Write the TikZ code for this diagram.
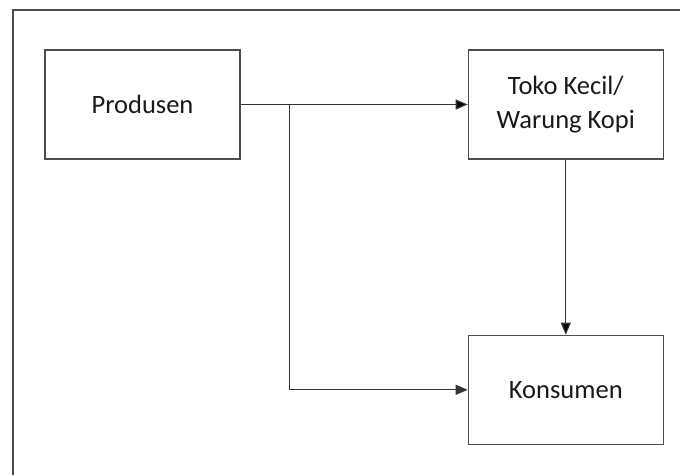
\documentclass[tikz,border=0pt]{standalone}
\usepackage{fontspec}
\setmainfont{Carlito}
\usetikzlibrary{arrows.meta,positioning}

\begin{document}
\begin{tikzpicture}[x=1pt,y=-1pt,>={Triangle[length=12pt,width=10pt]},
    box/.style={draw=black!70,line width=1.3pt,minimum width=195pt,minimum height=109pt,
      align=center,font=\fontsize{26.5}{34}\selectfont,text=black!90},
    link/.style={draw=black!80,line width=1.2pt}]
    \useasboundingbox (0,0) rectangle (680,475);
    % frame
    \draw[black!70,line width=1.4pt] (13,475) -- (13,10) -- (680,10);

    \node[box] (prod) at (142.5,104.5) {Produsen};
    \node[box] (toko) [right=227pt of prod] {Toko Kecil/\\Warung Kopi};
    \node[box] (kons) [below=175pt of toko] {Konsumen};
    \coordinate[right=49pt of prod.east] (j);

    \path[link,->]
    (prod) edge (toko)
    (toko) edge (kons)
    ;
    \draw[link,->] (j) |- (kons.west);
\end{tikzpicture}
\end{document}
